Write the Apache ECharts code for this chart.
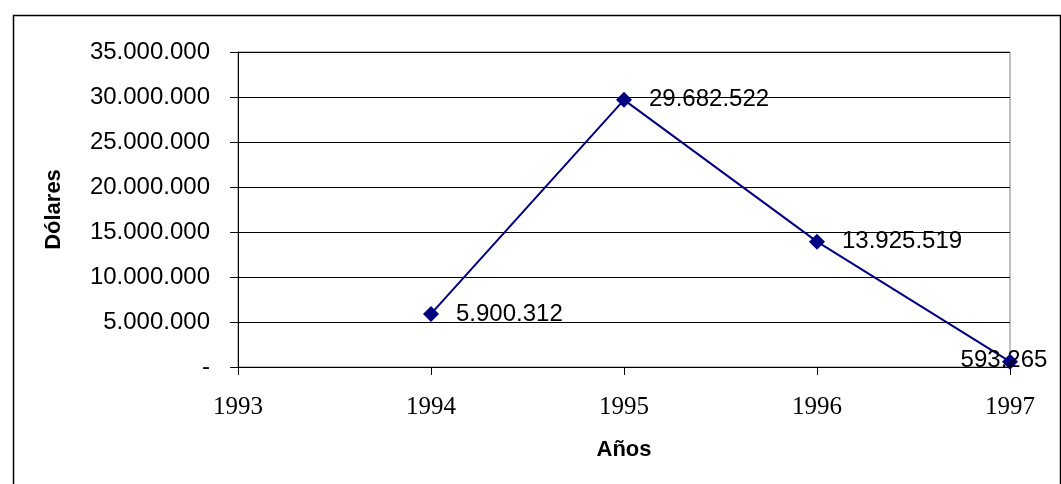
<!DOCTYPE html>
<html>
<head>
<meta charset="utf-8">
<script src="https://cdn.jsdelivr.net/npm/echarts@6/dist/echarts.min.js"></script>
<style>html,body{margin:0;padding:0;background:#fff}#c{width:1061px;height:484px}</style>
</head>
<body>
<div id="c"></div>
<script>
var years = ['1993', '1994', '1995', '1996', '1997'];
var dolares = [null, 5900312, 29682522, 13925519, 593265];
var yTickMax = 35000000;
var yTickStep = 5000000;

function fmt(v) {
  if (v === 0) return '-';
  return String(Math.round(v)).replace(/\B(?=(\d{3})+(?!\d))/g, '.');
}

var chart = echarts.init(document.getElementById('c'));
var seriesData = dolares.map(function (v, i) {
  if (i === dolares.length - 1) {
    return { value: v, label: { position: 'inside', offset: [-6, -1] } };
  }
  return v;
});
chart.setOption({
  animation: false,
  backgroundColor: '#fff',
  graphic: [{
    type: 'rect', left: 11, top: 13, silent: true,
    shape: { width: 1047, height: 490 },
    style: { fill: 'none', stroke: '#000', lineWidth: 1.5 }
  }],
  grid: { left: 238, top: 52, right: 51, bottom: 117, show: true, borderColor: '#808080', borderWidth: 1 },
  xAxis: {
    type: 'category', data: years, boundaryGap: false,
    name: 'Años', nameLocation: 'middle', nameGap: 72,
    nameTextStyle: { fontFamily: 'Arial, Liberation Sans', fontWeight: 'bold', fontSize: 22, color: '#000' },
    axisLine: { lineStyle: { color: '#000', width: 1 } },
    axisTick: { show: true, alignWithLabel: true, length: 8, lineStyle: { color: '#000' } },
    axisLabel: { fontFamily: 'Times New Roman, Liberation Serif', fontSize: 25, color: '#000', margin: 28 },
    splitLine: { show: false }
  },
  yAxis: {
    type: 'value', min: 0, max: yTickMax, interval: yTickStep,
    name: 'Dólares', nameLocation: 'middle', nameGap: 173, nameRotate: 90,
    nameTextStyle: { fontFamily: 'Arial, Liberation Sans', fontWeight: 'bold', fontSize: 22, color: '#000' },
    axisLine: { show: true, lineStyle: { color: '#000', width: 1 } },
    axisTick: { show: true, length: 8, lineStyle: { color: '#000' } },
    axisLabel: { fontFamily: 'Arial, Liberation Sans', fontSize: 24, color: '#000', margin: 28, formatter: fmt },
    splitLine: { show: true, lineStyle: { color: '#000', width: 1 } }
  },
  series: [{
    type: 'line', data: seriesData, connectNulls: false,
    symbol: 'diamond', symbolSize: 16,
    lineStyle: { color: '#000080', width: 2 },
    itemStyle: { color: '#000080' },
    label: {
      show: true, position: 'right', distance: 17,
      fontFamily: 'Arial, Liberation Sans', fontSize: 24, color: '#000',
      formatter: function (p) { return fmt(p.value); }
    }
  }]
});
</script>
</body>
</html>
